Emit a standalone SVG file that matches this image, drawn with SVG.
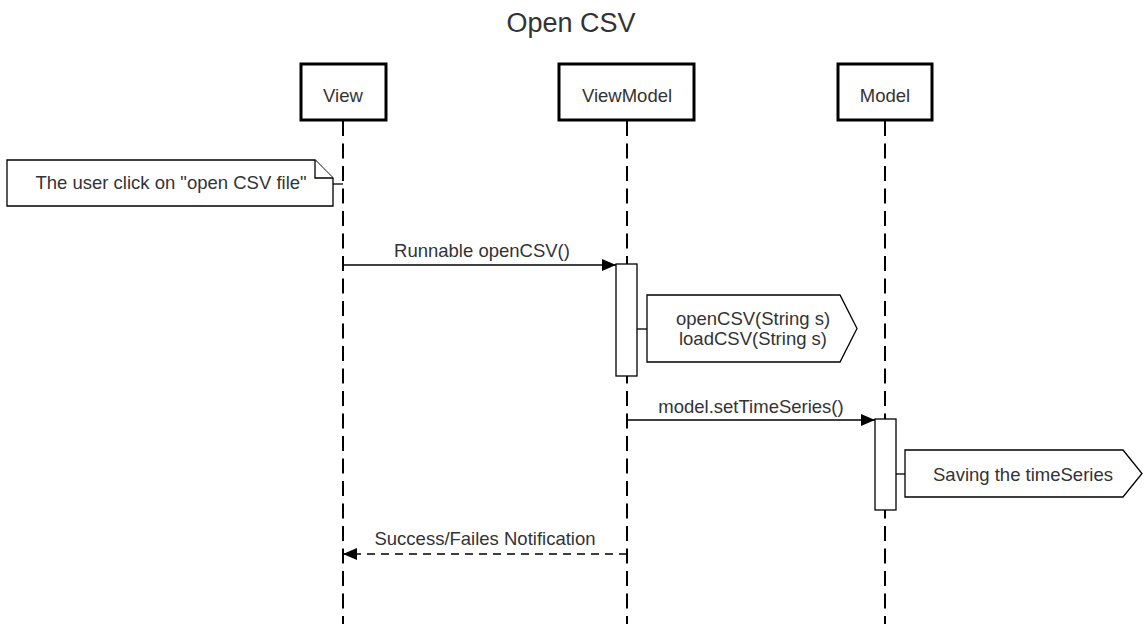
<svg xmlns="http://www.w3.org/2000/svg" width="1147" height="624" viewBox="0 0 1147 624">
<style>
text{font-family:"Liberation Sans",Arial,sans-serif;fill:#333;font-size:18.5px}
.box{fill:#fff;stroke:#000;stroke-width:3}
.life{stroke:#000;stroke-width:2;stroke-dasharray:15 7.5;fill:none}
.act{fill:#fff;stroke:#000;stroke-width:1.3}
.shape{fill:#fff;stroke:#000;stroke-width:1.3}
.msg{stroke:#000;stroke-width:1.3;fill:none}
</style>
<defs>
<marker id="arr" markerWidth="14" markerHeight="12" refX="14" refY="6" orient="auto" markerUnits="userSpaceOnUse">
<path d="M0,0 L14,6 L0,12 Z" fill="#000"/>
</marker>
</defs>
<rect width="1147" height="624" fill="#fff"/>
<text x="571" y="32" text-anchor="middle" style="font-size:27px">Open CSV</text>
<g id="lifelines">
<line class="life" x1="343" y1="121" x2="343" y2="624"/>
<line class="life" x1="627" y1="121" x2="627" y2="624"/>
<line class="life" x1="885" y1="121" x2="885" y2="624"/>
</g>
<g id="view"><rect class="box" x="301" y="64" width="85" height="56"/><text x="343" y="102" text-anchor="middle">View</text></g>
<g id="viewmodel"><rect class="box" x="559" y="64" width="135" height="56"/><text x="627" y="102" text-anchor="middle">ViewModel</text></g>
<g id="model"><rect class="box" x="838" y="64" width="94" height="56"/><text x="885" y="102" text-anchor="middle">Model</text></g>
<g id="note">
<line class="msg" x1="333" y1="184" x2="343" y2="184"/>
<path class="shape" d="M7,160 H315 L333,178 V206 H7 Z"/>
<path class="shape" d="M315,160 V178 H333"/>
<text x="171" y="189" text-anchor="middle">The user click on "open CSV file"</text>
</g>
<g id="act1"><rect class="act" x="616" y="264" width="21" height="112"/></g>
<g id="callout1">
<line class="msg" x1="637" y1="329" x2="647" y2="329"/>
<path class="shape" d="M647,295 H840 L857,328.5 L840,362 H647 Z"/>
<text x="753" y="325" text-anchor="middle">openCSV(String s)</text>
<text x="753" y="345" text-anchor="middle">loadCSV(String s)</text>
</g>
<g id="act2"><rect class="act" x="875" y="419" width="21" height="91"/></g>
<g id="callout2">
<line class="msg" x1="896" y1="474" x2="905" y2="474"/>
<path class="shape" d="M905,450 H1123 L1142,473.5 L1123,497 H905 Z"/>
<text x="1023" y="481" text-anchor="middle">Saving the timeSeries</text>
</g>
<g id="connectors">
<line class="msg" x1="343" y1="265" x2="616" y2="265" marker-end="url(#arr)"/>
<text x="482" y="257" text-anchor="middle">Runnable openCSV()</text>
<line class="msg" x1="627" y1="420" x2="875" y2="420" marker-end="url(#arr)"/>
<text x="751" y="413" text-anchor="middle">model.setTimeSeries()</text>
<line class="msg" x1="627" y1="554" x2="343" y2="554" stroke-dasharray="8 6" marker-end="url(#arr)"/>
<text x="485" y="545" text-anchor="middle">Success/Failes Notification</text>
</g>
</svg>
